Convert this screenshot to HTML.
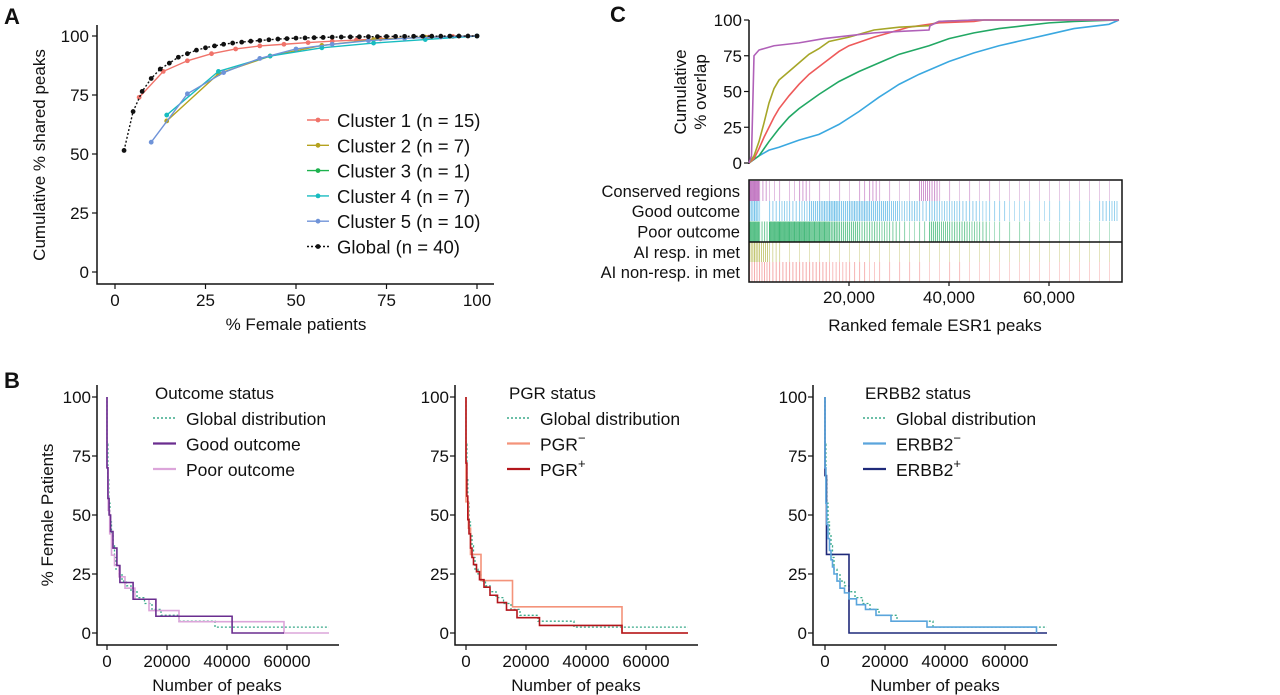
<!DOCTYPE html>
<html><head><meta charset="utf-8">
<style>
html,body{margin:0;padding:0;background:#fff;}
svg{display:block;font-family:"Liberation Sans",Arial,sans-serif;}
text{fill:#111;}
</style></head>
<body>
<svg id="fig" width="1280" height="695" viewBox="0 0 1280 695" xmlns="http://www.w3.org/2000/svg">
<text x="4" y="24" font-size="22" font-weight="bold">A</text>
<text x="610" y="22" font-size="22" font-weight="bold">C</text>
<text x="4" y="388" font-size="22" font-weight="bold">B</text>
</svg>
<script>
// ---------- Panel A data ----------
const aGlobalY = [51.5,68,76.5,82,86,88.5,91,92.5,94,95,95.8,96.5,97,97.4,97.8,98.1,98.4,98.7,98.9,99.1,99.2,99.3,99.4,99.5,99.55,99.6,99.65,99.7,99.75,99.8,99.82,99.85,99.87,99.9,99.92,99.94,99.96,99.98,99.99,100];
const aC1Y = [74,85,89.5,92.5,94.5,95.8,96.5,97.2,97.8,98.3,98.8,99.2,99.5,99.8,100];
const aC2Y = [64,84,91.5,96,98.5,99.5,100];
const aC3Y = [100];
const aC4Y = [66.5,85,91.5,95,97,98.5,100];
const aC5Y = [55,75.5,84.5,90.5,94.5,96.5,98,99,99.6,100];
const aTicks = [0,25,50,75,100];
const aLegendLabels = ["Cluster 1 (n = 15)","Cluster 2 (n = 7)","Cluster 3 (n = 1)","Cluster 4 (n = 7)","Cluster 5 (n = 10)","Global (n = 40)"];

// ---------- Panel C data (x in thousands of peaks) ----------
const cTicks = [0,25,50,75,100];
const cXTicks = [20,40,60];
const cXTickLabels = ["20,000","40,000","60,000"];
const cPurpleX = [0,0.5,1,2,5,10,15,20,25,30,36,36.2,38,45,74];
const cPurpleY = [0,5,75,79,82,84,87,89,91,92,93,96,99,100,100];
const cOliveX = [0,1,2,3,4,5,6,8,10,12,14,16,20,25,30,36,38,45,74];
const cOliveY = [0,5,15,28,42,52,58,64,70,76,80,85,88,93,95,96,99,100,100];
const cRedX = [0,1,2,3,4,5,6,8,10,12,15,18,20,25,28,32,36,38,45,47,74];
const cRedY = [0,3,10,18,25,32,38,47,55,62,70,78,82,88,91,95,97,98,99,100,100];
const cGreenX = [0,2,4,6,8,10,14,18,22,26,30,36,40,45,50,55,60,65,74];
const cGreenY = [0,5,15,24,32,38,48,57,64,70,76,82,87,91,94,96,98,99,100];
const cBlueX = [0,2,4,6,10,14,18,22,26,30,34,40,45,50,55,60,65,72,74];
const cBlueY = [0,5,9,11,16,20,27,36,46,55,62,71,77,82,86,90,94,97,100];
const cRowLabels = ["Conserved regions","Good outcome","Poor outcome","AI resp. in met","AI non-resp. in met"];
// barcode densities per 2,000-peak bin (37 bins)
const dConserved = [0.9,0.3,0.15,0.1,0.15,0.3,0.1,0.1,0.05,0.1,0.05,0.2,0.3,0.1,0.1,0.05,0.05,0.45,0.4,0.1,0.1,0.05,0.1,0.05,0.1,0.05,0.05,0.05,0.05,0.05,0.05,0.05,0.05,0.05,0.05,0.05,0.05];
const dGood = [0.6,0.1,0.3,0.35,0.3,0.35,0.5,0.55,0.6,0.5,0.55,0.55,0.5,0.5,0.45,0.35,0.4,0.3,0.4,0.35,0.35,0.3,0.3,0.25,0.2,0.2,0.15,0.15,0.1,0.15,0.1,0.1,0.1,0.1,0.1,0.3,0.35];
const dPoor = [0.85,0.4,0.85,0.85,0.8,0.8,0.75,0.75,0.6,0.5,0.5,0.4,0.4,0.35,0.3,0.2,0.15,0.2,0.5,0.45,0.4,0.4,0.35,0.3,0.15,0.1,0.1,0.1,0.1,0.05,0.05,0.05,0.05,0.05,0.05,0.05,0.05];
const dAIResp = [0.55,0.45,0.25,0.1,0.05,0.05,0.05,0.05,0.05,0.05,0.05,0.05,0.05,0.05,0.05,0.05,0.03,0.03,0.05,0.03,0.03,0.03,0.03,0.03,0.03,0.03,0.03,0.03,0.03,0.03,0.03,0.03,0.03,0.03,0.03,0.05,0.05];
const dAINon = [0.35,0.35,0.3,0.3,0.3,0.3,0.3,0.3,0.25,0.25,0.2,0.2,0.15,0.1,0.1,0.1,0.1,0.1,0.05,0.05,0.1,0.1,0.05,0.03,0.03,0.03,0.03,0.03,0.03,0.03,0.03,0.03,0.03,0.03,0.05,0.03,0.03];

// ---------- Panel B data (x in thousands of peaks) ----------
const bYTicks = [0,25,50,75,100];
const bXTicks = [0,20,40,60];
const bXTickLabels = ["0","20000","40000","60000"];
const gX = [0,0,0.3,0.6,1,1.5,2,2.5,3,4,5,6.5,8,10,12.5,15,18,24,36,74];
const gY = [100,80,65,55,47,42,37,32,27,25,22,20,17.5,15,12.5,10,7.5,5,2.5,2.5];
const goodX = [0,0,0.3,0.7,1.2,2,3.3,4.3,8.7,16.3,41.7,59];
const goodY = [100,70,57,50,43,36,28.6,21.4,14.3,7.1,0,0];
const poorX = [0,0,0.4,0.9,1.5,2.5,4,6,9.3,14,24,59,74];
const poorY = [100,70,52,42,33,28.6,23.8,19,14.3,9.5,4.8,0,0];
const pgrNegX = [0,0,0.8,1.5,5,15.5,52,74];
const pgrNegY = [100,55.6,44.4,33.3,22.2,11.1,0,0];
const pgrPosX = [0,0,0.3,0.6,1,1.5,2,2.5,3.5,4.5,6,8,10.5,13.5,17,24.5,52,74];
const pgrPosY = [100,72,58,48,42,36,32,29,26,22.6,19.4,16,12.9,9.7,6.5,3.2,0,0];
const erNegX = [0,0,0.3,0.6,1,1.5,2,2.5,3,4,5,6.5,8,10.5,13.5,17,22,34,70.5];
const erNegY = [100,70,55,46,40,35,31,28,25,22,19,17,14.5,12,10,7.5,5,2.5,0];
const erPosX = [0,0,0.5,8,74];
const erPosY = [100,66.7,33.3,0,0];

const svg = document.getElementById('fig');
const NS = 'http://www.w3.org/2000/svg';
function mk(tag, attrs, parent){
  const e = document.createElementNS(NS, tag);
  for (const k in attrs) e.setAttribute(k, attrs[k]);
  (parent||svg).appendChild(e);
  return e;
}
function txt(x,y,s,size,anchor,parent){
  const t = mk('text',{x:x,y:y,'font-size':size,'text-anchor':anchor||'start'},parent);
  t.textContent = s;
  return t;
}

// ================= PANEL A =================
const xA = v => 115 + v*3.62;
const yA = v => 272 - v*2.36;
const gA = mk('g',{});


let el = mk('path',{d:'M97 25 V284 H494',fill:'none',stroke:'#111','stroke-width':1.5},gA);


aTicks.forEach(v=>{
  let t = mk('line',{x1:92,x2:97,y1:yA(v),y2:yA(v),stroke:'#111','stroke-width':1.2},gA);
  
  
  let l = txt(89,yA(v)+6,String(v),17,'end',gA);
  
  
  let t2 = mk('line',{x1:xA(v),x2:xA(v),y1:284,y2:289,stroke:'#111','stroke-width':1.2},gA);
  
  
  let l2 = txt(xA(v),306,String(v),17,'middle',gA);
  
  
});
el = txt(296,330,'% Female patients',17,'middle',gA);


el = txt(0,0,'Cumulative % shared peaks',17,'middle',gA);
el.setAttribute('transform','translate(45,155) rotate(-90)');



const aSeries = [
  {ys:aC1Y, n:15, c:'#F0736A', name:'cluster-1'},
  {ys:aC2Y, n:7, c:'#B5A21E', name:'cluster-2'},
  {ys:aC3Y, n:1, c:'#1DB24E', name:'cluster-3'},
  {ys:aC4Y, n:7, c:'#18BCC0', name:'cluster-4'},
  {ys:aC5Y, n:10, c:'#6F93D8', name:'cluster-5'},
  {ys:aGlobalY, n:40, c:'#111', name:'global', dash:'2,2'}
];
aSeries.forEach((s,si)=>{
  const step = 100/s.n;
  const start = s.ys.length===s.n ? 1 : s.n - s.ys.length + 1;
  const pts = s.ys.map((y,i)=>[xA((start+i)*step), yA(y)]);
  const p = mk('polyline',{points:pts.map(p=>p.join(',')).join(' '),fill:'none',stroke:s.c,'stroke-width':1.4,'stroke-dasharray':s.dash||'none'},gA);
  
  
  pts.forEach(pt=>{
    const c = mk('circle',{cx:pt[0],cy:pt[1],r:2.4,fill:s.c},gA);
    
    
  });
  const ly = 120 + si*25.3;
  const ll = mk('line',{x1:307,x2:329,y1:ly,y2:ly,stroke:s.c,'stroke-width':1.4,'stroke-dasharray':s.dash||'none'},gA);
  
  
  const lc = mk('circle',{cx:318,cy:ly,r:2.4,fill:s.c},gA);
  
  
  const lt = txt(337,ly+7,aLegendLabels[si],18.5,'start',gA);
  
  
});

// ================= PANEL C =================
const xC = v => 749 + v*5;
const yC = v => 163 - v*1.43;
const gC = mk('g',{});


el = mk('line',{x1:749,x2:749,y1:20,y2:164,stroke:'#111','stroke-width':1.5},gC);


cTicks.forEach(v=>{
  let t = mk('line',{x1:744,x2:749,y1:yC(v),y2:yC(v),stroke:'#111','stroke-width':1.2},gC);
  
  
  let l = txt(742,yC(v)+6,String(v),17,'end',gC);
  
  
});
el = txt(0,0,'Cumulative',17,'middle',gC);
el.setAttribute('transform','translate(686,92) rotate(-90)');


el = txt(0,0,'% overlap',17,'middle',gC);
el.setAttribute('transform','translate(706,92) rotate(-90)');



const rows = [
  {d:dConserved,c:'#B04FB0',y0:181,name:'conserved'},
  {d:dGood,c:'#3AA8E0',y0:201,name:'good-outcome'},
  {d:dPoor,c:'#18A85A',y0:221.5,name:'poor-outcome'},
  {d:dAIResp,c:'#A5A82A',y0:242,name:'ai-resp'},
  {d:dAINon,c:'#EE6A6A',y0:262,name:'ai-nonresp'}
];
rows.forEach((r,ri)=>{
  r.d.forEach((dv,i)=>{
    const x0 = xC(i*2), x1 = Math.min(xC((i+1)*2), xC(74));
    const n = Math.max(1, Math.round(dv*10));
    const w = (x1-x0)/n;
    for(let k=0;k<n;k++){
      const b = mk('rect',{x:x0+k*w,y:r.y0,width:Math.max(0.8,w*Math.min(0.9,dv*1.1)),height:20,fill:r.c,'fill-opacity':0.35+dv*0.55},gC);
      
      
    }
  });
  const lt = txt(740,r.y0+16,cRowLabels[ri],16.5,'end',gC);
  
  
});
el = mk('rect',{x:749,y:180,width:373,height:102,fill:'none',stroke:'#111','stroke-width':1.5},gC);


el = mk('line',{x1:749,x2:1122,y1:242,y2:242,stroke:'#111','stroke-width':1.5},gC);


cXTicks.forEach((v,i)=>{
  let t = mk('line',{x1:xC(v),x2:xC(v),y1:282,y2:286,stroke:'#111','stroke-width':1.2},gC);
  
  
  let l = txt(xC(v),303,cXTickLabels[i],17,'middle',gC);
  
  
});
el = txt(935,331,'Ranked female ESR1 peaks',17,'middle',gC);



const cSeries = [
  {x:cBlueX,y:cBlueY,c:'#3AA8E0',name:'good-outcome'},
  {x:cGreenX,y:cGreenY,c:'#22A864',name:'poor-outcome'},
  {x:cRedX,y:cRedY,c:'#EE5A5A',name:'ai-nonresp'},
  {x:cOliveX,y:cOliveY,c:'#A6A628',name:'ai-resp'},
  {x:cPurpleX,y:cPurpleY,c:'#B060B8',name:'conserved'}
];
cSeries.forEach(s=>{
  const pts = s.x.map((x,i)=>xC(x)+','+yC(s.y[i])).join(' ');
  const p = mk('polyline',{points:pts,fill:'none',stroke:s.c,'stroke-width':1.6},gC);
  
  
});

// ================= PANEL B =================
const yB = v => 633 - v*2.36;
function stepPath(xs,ys,xf){
  let d = 'M'+xf(xs[0])+' '+yB(ys[0]);
  for(let i=1;i<xs.length;i++){
    d += ' H'+xf(xs[i])+' V'+yB(ys[i]);
  }
  return d;
}
const panelsB = [
  {ax:97, x0:107, xend:339, title:'Outcome status', lx:153, name:'outcome',
   series:[{x:gX,y:gY,c:'#3AAA8A',dash:'2,2',label:'Global distribution',nm:'global'},
           {x:poorX,y:poorY,c:'#DCA5DA',label:'Poor outcome',nm:'poor'},
           {x:goodX,y:goodY,c:'#6A2D8F',label:'Good outcome',nm:'good'}],
   order:[0,2,1]},
  {ax:455, x0:466, xend:698, title:'PGR status', lx:507, name:'pgr',
   series:[{x:gX,y:gY,c:'#3AAA8A',dash:'2,2',label:'Global distribution',nm:'global'},
           {x:pgrNegX,y:pgrNegY,c:'#F4937A',label:'PGR',sup:'−',nm:'pgr-neg'},
           {x:pgrPosX,y:pgrPosY,c:'#B3161C',label:'PGR',sup:'+',nm:'pgr-pos'}],
   order:[0,1,2]},
  {ax:813, x0:825, xend:1057, title:'ERBB2 status', lx:863, name:'erbb2',
   series:[{x:gX,y:gY,c:'#3AAA8A',dash:'2,2',label:'Global distribution',nm:'global'},
           {x:erPosX,y:erPosY,c:'#1F2A7A',label:'ERBB2',sup:'+',nm:'erbb2-pos'},
           {x:erNegX,y:erNegY,c:'#5AA5DC',label:'ERBB2',sup:'−',nm:'erbb2-neg'}],
   order:[0,2,1]}
];
panelsB.forEach((P,pi)=>{
  const xf = v => P.x0 + v*3;
  const g = mk('g',{});
  
  
  let a = mk('path',{d:'M'+P.ax+' 385 V645 H'+P.xend,fill:'none',stroke:'#111','stroke-width':1.5},g);
  
  
  bYTicks.forEach(v=>{
    let t = mk('line',{x1:P.ax-5,x2:P.ax,y1:yB(v),y2:yB(v),stroke:'#111','stroke-width':1.2},g);
    
    
    let l = txt(P.ax-6,yB(v)+6,String(v),17,'end',g);
    
    
  });
  bXTicks.forEach((v,i)=>{
    let t = mk('line',{x1:xf(v),x2:xf(v),y1:645,y2:650,stroke:'#111','stroke-width':1.2},g);
    
    
    let l = txt(xf(v),667,bXTickLabels[i],17,'middle',g);
    
    
  });
  let xt = txt(P.x0+110,691,'Number of peaks',17,'middle',g);
  
  
  if(pi===0){
    let yt = txt(0,0,'% Female Patients',17,'middle',g);
    yt.setAttribute('transform','translate(53,515) rotate(-90)');
    
    
  }
  P.series.forEach(s=>{
    const p = mk('path',{d:stepPath(s.x,s.y,xf),fill:'none',stroke:s.c,'stroke-width':s.dash?1.3:1.6,'stroke-dasharray':s.dash||'none'},g);
    
    
  });
  let tt = txt(P.lx+2,399,P.title,17,'start',g);
  
  
  P.order.forEach((si,k)=>{
    const s = P.series[si];
    const ly = 418 + k*25.5;
    const ll = mk('line',{x1:P.lx,x2:P.lx+23,y1:ly,y2:ly,stroke:s.c,'stroke-width':s.dash?1.5:2.2,'stroke-dasharray':s.dash||'none'},g);
    
    
    const lt = txt(P.lx+33,ly+7,s.label,17.5,'start',g);
    
    
    if(s.sup){
      const sp = document.createElementNS(NS,'tspan');
      sp.setAttribute('dy','-8');
      sp.setAttribute('font-size','13');
      sp.textContent = s.sup;
      lt.appendChild(sp);
    }
  });
});
</script>
</body></html>
